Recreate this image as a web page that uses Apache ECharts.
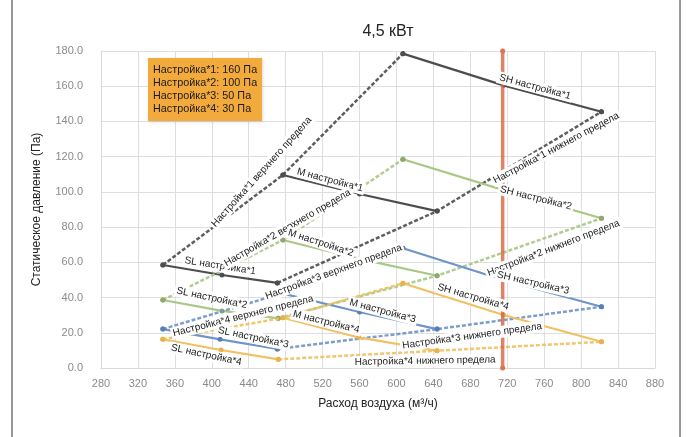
<!DOCTYPE html>
<html><head><meta charset="utf-8">
<script src="https://cdn.jsdelivr.net/npm/echarts@6/dist/echarts.min.js"></script>
<style>html,body{margin:0;padding:0;background:#fff;}#c{width:686px;height:437px;}</style>
</head><body><div id="c"></div>
<script>
// ---- data (x: м³/ч, y: Па) ----
const xTicks = [280, 880, 40];
const yTicks = [0, 180, 20];
const sl1 = [[347,58.5],[411,52.8],[471,48.3]];
const m1  = [[477,109.6],[560,98.8],[644,89.1]];
const sh1 = [[607,178.5],[716,160.5],[822,145.5]];
const sl2 = [[347,38.6],[411,32.4],[472,28.2]];
const m2  = [[477,72.7],[560,62.0],[644,52.4]];
const sh2 = [[607,118.5],[716,101.0],[822,85.0]];
const sl3 = [[347,22.1],[409,16.3],[471,10.8]];
const m3  = [[476,42.4],[560,31.8],[644,22.1]];
const sh3 = [[607,68.0],[716,50.0],[822,34.8]];
const sl4 = [[347,16.3],[410,10.2],[472,4.9]];
const m4  = [[477,28.5],[559,17.4],[644,9.8]];
const sh4 = [[607,48.1],[716,30.1],[822,14.9]];
const refLine = [[715,0],[715,180]];
const legendLines = ['Настройка*1: 160 Па','Настройка*2: 100 Па','Настройка*3: 50 Па','Настройка*4: 30 Па'];
const title = '4,5 кВт';

// ---- styles ----
const colors = ['#4d4d4d','#a9c785','#6f94c8','#f1c062'];
const markerColors = ['#4d4d4d','#8faa6a','#5a7fb5','#e9b24a'];
const sets = [[sl1,m1,sh1],[sl2,m2,sh2],[sl3,m3,sh3],[sl4,m4,sh4]];

// label layout: [text, x, y (data coords), rotation deg]
const labels = [
 ['SL настройка*1',409,57.9,-9],
 ['M настройка*1',528,106.7,-15],
 ['SH настройка*1',750,159.6,-15],
 ['Настройка*1 верхнего предела',454,111.3,48],
 ['Настройка*1 нижнего предела',773,124.9,28],
 ['Настройка*2 верхнего предела',482,79.5,30],
 ['M настройка*2',518,71,-18],
 ['SH настройка*2',751,96.5,-14],
 ['Настройка*2 нижнего предела',770,68.1,21],
 ['SL настройка*2',400,39.7,-12],
 ['Настройка*3 верхнего предела',532,54.5,20],
 ['M настройка*3',585,32.4,-15],
 ['SH настройка*3',748,48.3,-13],
 ['Настройка*3 нижнего предела',682,18.2,8],
 ['Настройка*4 верхнего предела',434,29.5,14],
 ['SL настройка*3',445,17.3,-12],
 ['M настройка*4',524,26.1,-14],
 ['SH настройка*4',683,40.3,-16],
 ['Настройка*4 нижнего предела',631,4.0,1],
 ['SL настройка*4',394,7.4,-12]
];

const series = [];
sets.forEach((s,i)=>{
  const [sl,m,sh] = s;
  const base = {type:'line', symbol:'circle', symbolSize:5, animation:false,
    itemStyle:{color:markerColors[i]}, z:2+i};
  [sl,m,sh].forEach(d=>series.push(Object.assign({}, base, {data:d,
    lineStyle:{color:colors[i], width:2.2}})));
  const upper = [sl[0], m[0], sh[0]];
  const lower = [sl[2], m[2], sh[2]];
  [upper, lower].forEach(d=>series.push(Object.assign({}, base, {data:d,
    lineStyle:{color:colors[i], width:2.5, type:[4,2], opacity:0.9}})));
});
series.push({type:'line', data:refLine, symbol:'circle', symbolSize:5, animation:false,
  itemStyle:{color:'#e0744f'}, lineStyle:{color:'#d9623f', width:3.5, opacity:0.8}, z:20});

const chart = echarts.init(document.getElementById('c'), null, {renderer:'canvas'});
const FONT = '"Liberation Sans", Arial, sans-serif';
chart.setOption({
  animation:false,
  backgroundColor:'#fff',
  title:{text:title, left:383, top:19, textAlign:'center',
    textStyle:{fontSize:16, fontWeight:'normal', color:'#222', fontFamily:FONT}},
  grid:{left:101, right:31, top:51, bottom:69},
  xAxis:{type:'value', min:xTicks[0], max:xTicks[1], interval:xTicks[2],
    name:'Расход воздуха (м³/ч)', nameLocation:'middle', nameGap:30,
    nameTextStyle:{fontSize:12, color:'#222', fontFamily:FONT},
    axisLine:{show:true, lineStyle:{color:'#d9d9d9'}}, axisTick:{show:false},
    axisLabel:{color:'#8a8a8a', fontSize:11, margin:10, fontFamily:FONT},
    splitLine:{show:true, lineStyle:{color:'#dedede', width:1}}},
  yAxis:{type:'value', min:yTicks[0], max:yTicks[1], interval:yTicks[2],
    name:'Статическое давление (Па)', nameLocation:'middle', nameGap:58,
    nameTextStyle:{fontSize:12, color:'#222', fontFamily:FONT},
    axisLine:{show:true, lineStyle:{color:'#d9d9d9'}}, axisTick:{show:false},
    axisLabel:{color:'#8a8a8a', fontSize:11, margin:18, fontFamily:FONT,
      formatter:v=>v.toFixed(1)},
    splitLine:{show:true, lineStyle:{color:'#dedede', width:1}}},
  series:series
});

const graphics = [
  {type:'line', shape:{x1:12,y1:0,x2:12,y2:437}, style:{stroke:'#333', lineWidth:1}, z:100},
  {type:'line', shape:{x1:680,y1:0,x2:680,y2:437}, style:{stroke:'#333', lineWidth:1}, z:100},
  {type:'rect', shape:{x:148,y:58,width:114,height:63}, style:{fill:'#f2aa3d',
    shadowColor:'rgba(0,0,0,0.15)', shadowBlur:3, shadowOffsetX:1, shadowOffsetY:1}, z:100},
  {type:'text', x:153, y:64, z:101, style:{text:legendLines.join('\n'), fontSize:10.8,
    lineHeight:12.8, fill:'#1a1a1a', fontFamily:FONT}}
];
labels.forEach((l,k)=>{
  const p = chart.convertToPixel({gridIndex:0}, [l[1], l[2]]);
  graphics.push({type:'text', x:p[0], y:p[1], rotation:l[3]*Math.PI/180, z:50+k,
    style:{text:l[0], fontSize:10, fill:'#222', fontFamily:FONT, align:'center',
      verticalAlign:'middle', backgroundColor:'#fff', padding:[1,2]}});
});
chart.setOption({graphic:graphics});
</script></body></html>
